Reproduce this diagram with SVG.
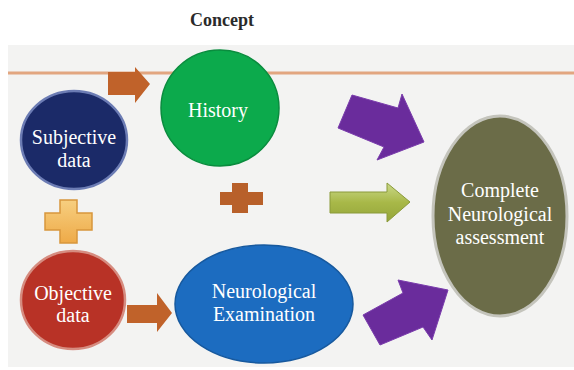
<svg xmlns="http://www.w3.org/2000/svg" width="574" height="370" viewBox="0 0 574 370">
  <defs>
    <style>
      .lbl { font-size: 20px; fill: #ffffff; text-anchor: middle; }
      .title { font-size: 18px; font-weight: bold; fill: #2a2a2a; text-anchor: middle; }
      .purple { fill: #6a2c9c; stroke: #7a3cac; stroke-width: 1; }
      .brown { fill: #c0622a; }
    </style>
    <linearGradient id="gLime" x1="0" y1="0" x2="0" y2="1">
      <stop offset="0" stop-color="#cbd98a"/>
      <stop offset="0.5" stop-color="#a8b848"/>
      <stop offset="1" stop-color="#94a53a"/>
    </linearGradient>
    <linearGradient id="gYellow" x1="0" y1="0" x2="0" y2="1">
      <stop offset="0" stop-color="#f7cf80"/>
      <stop offset="1" stop-color="#eeaa48"/>
    </linearGradient>
  </defs>

  <rect x="0" y="0" width="574" height="370" fill="#ffffff"/>
  <text class="title" x="222" y="26" font-family="Liberation Serif, DejaVu Serif, serif">Concept</text>

  <rect x="8" y="45" width="566" height="322" fill="#f3f3f2"/>
  <line x1="8" y1="73" x2="574" y2="73" stroke="#e2a680" stroke-width="3"/>

  <g id="connectors">
    <path class="brown" d="M108,72 L135,72 L135,67 L150,84 L135,103 L135,95 L108,95 Z"/>
    <path class="brown" d="M127,305 L157,305 L157,293 L172,313 L157,332 L157,323 L127,323 Z"/>
    <path class="purple" d="M352,95 L398,108 L402,94 L424,142 L377,160 L384,147 L338,128 Z"/>
    <path class="purple" d="M363,315 L403,293 L398,280 L448,290 L432,340 L423,327 L380,345 Z"/>
    <path d="M330,192 L387,192 L387,183 L410,202 L387,222 L387,213 L330,213 Z" fill="url(#gLime)" stroke="#8a9a3a" stroke-width="1"/>
  </g>

  <g id="operators">
    <path id="plus-yellow" d="M60,200 L77,200 L77,213 L92,213 L92,230 L77,230 L77,243 L60,243 L60,230 L45,230 L45,213 L60,213 Z" fill="url(#gYellow)" stroke="#d8963c" stroke-width="1.5"/>
    <path id="plus-brown" d="M232,183 L248,183 L248,192 L263,192 L263,205 L248,205 L248,213 L232,213 L232,205 L220,205 L220,192 L232,192 Z" fill="#b8602a"/>
  </g>

  <g id="subjective" font-family="Liberation Serif, DejaVu Serif, serif">
    <ellipse cx="74" cy="140" rx="53" ry="49" fill="#1b2a68" stroke="#6c7cb4" stroke-width="2.5"/>
    <text class="lbl" x="74" y="144">Subjective</text>
    <text class="lbl" x="74" y="167">data</text>
  </g>

  <g id="objective" font-family="Liberation Serif, DejaVu Serif, serif">
    <ellipse cx="73" cy="300" rx="52" ry="49" fill="#b83226" stroke="#d68c80" stroke-width="2.5"/>
    <text class="lbl" x="73" y="300">Objective</text>
    <text class="lbl" x="73" y="322">data</text>
  </g>

  <g id="history" font-family="Liberation Serif, DejaVu Serif, serif">
    <ellipse cx="220" cy="108" rx="59" ry="58" fill="#0caa4c" stroke="#0a8c3e" stroke-width="1.5"/>
    <text class="lbl" x="218" y="117">History</text>
  </g>

  <g id="neuro-exam" font-family="Liberation Serif, DejaVu Serif, serif">
    <ellipse cx="264" cy="304" rx="89" ry="59" fill="#1c6cc0" stroke="#17599e" stroke-width="1.5"/>
    <text class="lbl" x="264" y="298">Neurological</text>
    <text class="lbl" x="264" y="321">Examination</text>
  </g>

  <g id="complete" font-family="Liberation Serif, DejaVu Serif, serif">
    <ellipse cx="500" cy="216" rx="67" ry="100" fill="#6b6c48" stroke="#c4c4bc" stroke-width="3"/>
    <text class="lbl" x="500" y="197">Complete</text>
    <text class="lbl" x="500" y="221">Neurological</text>
    <text class="lbl" x="500" y="244">assessment</text>
  </g>
</svg>
